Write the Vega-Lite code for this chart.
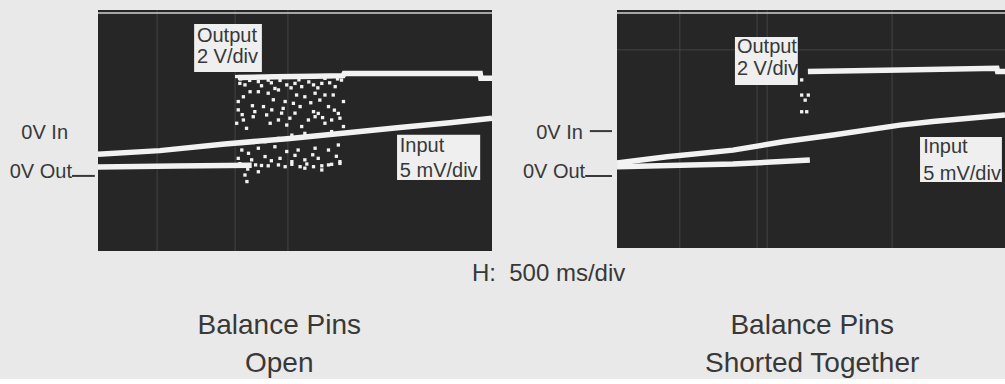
{
  "$schema": "https://vega.github.io/schema/vega-lite/v6.json",
  "background": "#e9e9e9",
  "padding": 0,
  "spacing": 125,
  "bounds": "flush",
  "config": {
    "view": {"fill": "#262626", "stroke": null},
    "font": "Liberation Sans",
    "text": {"color": "#383838"}
  },
  "datasets": {
    "lrules": [
      {"k": "grid", "x": 1.50, "x2": 1.50, "y": -0.034, "y2": 8.067},
      {"k": "grid", "x": 3.48, "x2": 3.48, "y": -0.034, "y2": 8.067},
      {"k": "grid", "x": 4.82, "x2": 4.82, "y": -0.034, "y2": 8.067},
      {"k": "edge", "x": 0, "x2": 10, "y": 7.97, "y2": 7.97},
      {"k": "dash", "x": -0.66, "x2": -0.08, "y": 2.49, "y2": 2.49}
    ],
    "ltraces": [
      {"s": "in", "x": 0, "y": 3.22}, {"s": "in", "x": 1.57, "y": 3.34}, {"s": "in", "x": 3.22, "y": 3.56},
      {"s": "in", "x": 4.87, "y": 3.75}, {"s": "in", "x": 6.40, "y": 3.95}, {"s": "in", "x": 7.66, "y": 4.12},
      {"s": "in", "x": 8.93, "y": 4.28}, {"s": "in", "x": 10, "y": 4.43},
      {"s": "lo", "x": 0, "y": 2.79}, {"s": "lo", "x": 2.0, "y": 2.82}, {"s": "lo", "x": 3.9, "y": 2.85},
      {"s": "hi", "x": 3.55, "y": 5.80}, {"s": "hi", "x": 4.5, "y": 5.82}, {"s": "hi", "x": 5.5, "y": 5.84},
      {"s": "hi", "x": 6.22, "y": 5.86}, {"s": "hi", "x": 6.25, "y": 5.93}, {"s": "hi", "x": 9.70, "y": 5.93},
      {"s": "hi", "x": 9.72, "y": 5.77}, {"s": "hi", "x": 10, "y": 5.77}
    ],
    "ldots": [
      {"x": 3.52, "y": 5.83}, {"x": 3.60, "y": 5.60}, {"x": 3.73, "y": 5.55}, {"x": 4.07, "y": 5.66}, {"x": 4.32, "y": 5.71},
      {"x": 4.49, "y": 5.43}, {"x": 4.79, "y": 5.55}, {"x": 5.00, "y": 5.60}, {"x": 5.17, "y": 5.49}, {"x": 5.47, "y": 5.55},
      {"x": 5.68, "y": 5.60}, {"x": 5.76, "y": 5.77}, {"x": 6.02, "y": 5.49}, {"x": 6.18, "y": 5.71},
      {"x": 3.62, "y": 5.75}, {"x": 3.85, "y": 5.70}, {"x": 4.15, "y": 5.52}, {"x": 4.40, "y": 5.62}, {"x": 4.62, "y": 5.70},
      {"x": 4.90, "y": 5.45}, {"x": 5.10, "y": 5.72}, {"x": 5.35, "y": 5.65}, {"x": 5.58, "y": 5.45}, {"x": 5.88, "y": 5.62},
      {"x": 6.08, "y": 5.75},
      {"x": 3.56, "y": 4.99}, {"x": 3.69, "y": 5.15}, {"x": 3.86, "y": 5.32}, {"x": 4.07, "y": 5.32}, {"x": 4.32, "y": 5.27},
      {"x": 4.58, "y": 5.38}, {"x": 4.75, "y": 4.99}, {"x": 4.96, "y": 4.93}, {"x": 5.04, "y": 5.21}, {"x": 5.25, "y": 5.15},
      {"x": 5.51, "y": 5.27}, {"x": 5.63, "y": 5.04}, {"x": 5.76, "y": 5.21}, {"x": 5.97, "y": 5.21}, {"x": 6.23, "y": 4.99},
      {"x": 3.56, "y": 4.71}, {"x": 3.98, "y": 4.65}, {"x": 4.20, "y": 4.82}, {"x": 4.41, "y": 4.71}, {"x": 4.70, "y": 4.76},
      {"x": 5.13, "y": 4.82}, {"x": 5.47, "y": 4.65}, {"x": 5.85, "y": 4.82}, {"x": 6.10, "y": 4.59},
      {"x": 3.66, "y": 4.55}, {"x": 3.92, "y": 4.85}, {"x": 4.45, "y": 5.05}, {"x": 4.66, "y": 4.60}, {"x": 5.00, "y": 4.60},
      {"x": 5.40, "y": 4.95}, {"x": 5.70, "y": 4.45}, {"x": 6.00, "y": 4.70},
      {"x": 3.52, "y": 4.26}, {"x": 3.69, "y": 4.37}, {"x": 3.94, "y": 4.48}, {"x": 4.28, "y": 4.54}, {"x": 4.58, "y": 4.37},
      {"x": 4.79, "y": 4.20}, {"x": 4.87, "y": 4.43}, {"x": 5.34, "y": 4.37}, {"x": 5.59, "y": 4.59}, {"x": 5.76, "y": 4.26},
      {"x": 5.93, "y": 4.37}, {"x": 6.14, "y": 4.43}, {"x": 3.77, "y": 4.09}, {"x": 4.37, "y": 4.26}, {"x": 5.17, "y": 4.15},
      {"x": 5.51, "y": 4.48}, {"x": 6.23, "y": 4.15},
      {"x": 3.65, "y": 3.36}, {"x": 3.82, "y": 3.25}, {"x": 4.07, "y": 3.42}, {"x": 4.49, "y": 3.47}, {"x": 4.79, "y": 3.31},
      {"x": 5.08, "y": 3.36}, {"x": 5.51, "y": 3.42}, {"x": 5.85, "y": 3.36}, {"x": 6.10, "y": 3.53},
      {"x": 3.56, "y": 3.08}, {"x": 3.90, "y": 3.03}, {"x": 4.24, "y": 3.14}, {"x": 4.62, "y": 3.08}, {"x": 4.92, "y": 2.97},
      {"x": 5.25, "y": 3.03}, {"x": 5.59, "y": 3.08}, {"x": 5.85, "y": 2.86}, {"x": 6.14, "y": 2.97}, {"x": 3.73, "y": 2.52},
      {"x": 5.25, "y": 2.75}, {"x": 5.68, "y": 2.69}, {"x": 3.60, "y": 2.90}, {"x": 3.80, "y": 2.72}, {"x": 4.40, "y": 3.00},
      {"x": 5.00, "y": 3.18}, {"x": 5.45, "y": 3.20}, {"x": 6.05, "y": 3.15}, {"x": 3.78, "y": 2.30},
      {"x": 4.00, "y": 2.86}, {"x": 4.15, "y": 2.84}, {"x": 4.32, "y": 2.83}, {"x": 4.58, "y": 2.86}, {"x": 4.75, "y": 2.80},
      {"x": 4.92, "y": 2.88}, {"x": 5.13, "y": 2.80}, {"x": 5.30, "y": 2.89}, {"x": 5.47, "y": 2.80}, {"x": 5.68, "y": 2.83},
      {"x": 5.93, "y": 2.88}, {"x": 6.14, "y": 2.91}, {"x": 4.07, "y": 2.63},
      {"x": 4.24, "y": 3.64}, {"x": 4.58, "y": 3.75}, {"x": 4.92, "y": 3.86}, {"x": 5.25, "y": 3.92}, {"x": 5.59, "y": 3.86},
      {"x": 5.93, "y": 3.98}
    ],
    "lbox": [
      {"x": 2.44, "x2": 4.16, "y": 7.60, "y2": 5.98},
      {"x": 7.59, "x2": 9.70, "y": 3.87, "y2": 2.35}
    ],
    "ltext": [
      {"t": "Output", "x": 2.51, "y": 6.99}, {"t": "2 V/div", "x": 2.51, "y": 6.29},
      {"t": "Input", "x": 7.66, "y": 3.29}, {"t": "5 mV/div", "x": 7.66, "y": 2.45}
    ],
    "lout": [
      {"t": "0V In", "x": -0.76, "y": 3.93},
      {"t": "0V Out", "x": -0.66, "y": 2.62}
    ],
    "ltitle": [
      {"t": "Balance Pins", "x": 4.60, "y": -2.82},
      {"t": "Open", "x": 4.60, "y": -4.10}
    ],
    "lh": [
      {"t": "H:\u00a0 500 ms/div", "x": 9.49, "y": -1.04}
    ],
    "rrules": [
      {"k": "grid", "x": 1.62, "x2": 1.62, "y": 0, "y2": 8},
      {"k": "grid", "x": 3.61, "x2": 3.61, "y": 0, "y2": 8},
      {"k": "grid", "x": 3.87, "x2": 3.87, "y": 0, "y2": 8},
      {"k": "grid", "x": 7.09, "x2": 7.09, "y": 0, "y2": 8},
      {"k": "grid", "x": 0, "x2": 10, "y": 6.66, "y2": 6.66},
      {"k": "edge", "x": 0, "x2": 10, "y": 7.90, "y2": 7.90},
      {"k": "dash", "x": -0.70, "x2": -0.13, "y": 3.93, "y2": 3.93},
      {"k": "dash", "x": -0.82, "x2": -0.13, "y": 2.42, "y2": 2.42}
    ],
    "rtraces": [
      {"s": "in", "x": 0, "y": 2.86}, {"s": "in", "x": 1.29, "y": 3.07}, {"s": "in", "x": 2.99, "y": 3.29},
      {"s": "in", "x": 4.28, "y": 3.57}, {"s": "in", "x": 5.57, "y": 3.80}, {"s": "in", "x": 7.29, "y": 4.13},
      {"s": "in", "x": 8.14, "y": 4.25}, {"s": "in", "x": 10, "y": 4.47},
      {"s": "lo", "x": 0, "y": 2.73}, {"s": "lo", "x": 2.99, "y": 2.82}, {"s": "lo", "x": 4.97, "y": 2.96},
      {"s": "hi", "x": 4.92, "y": 5.93}, {"s": "hi", "x": 7.29, "y": 5.98}, {"s": "hi", "x": 9.79, "y": 6.04},
      {"s": "hi", "x": 9.81, "y": 5.93}, {"s": "hi", "x": 10, "y": 5.93}
    ],
    "rdots": [
      {"x": 4.76, "y": 5.65}, {"x": 4.76, "y": 5.14}, {"x": 4.93, "y": 5.14},
      {"x": 4.85, "y": 4.97}, {"x": 4.76, "y": 4.58}, {"x": 4.89, "y": 4.58}
    ],
    "rbox": [
      {"x": 3.04, "x2": 4.66, "y": 7.09, "y2": 5.48},
      {"x": 7.81, "x2": 9.92, "y": 3.73, "y2": 2.22}
    ],
    "rtext": [
      {"t": "Output", "x": 3.09, "y": 6.55}, {"t": "2 V/div", "x": 3.09, "y": 5.82},
      {"t": "Input", "x": 7.89, "y": 3.19}, {"t": "5 mV/div", "x": 7.89, "y": 2.29}
    ],
    "rout": [
      {"t": "0V In", "x": -0.88, "y": 3.85},
      {"t": "0V Out", "x": -0.82, "y": 2.57}
    ],
    "rtitle": [
      {"t": "Balance Pins", "x": 5.03, "y": -2.89},
      {"t": "Shorted Together", "x": 5.03, "y": -4.17}
    ]
  },
  "hconcat": [
    {
      "width": 394,
      "height": 241,
      "encoding": {
        "x": {"field": "x", "type": "quantitative", "scale": {"domain": [0, 10], "nice": false, "zero": false}, "axis": null},
        "y": {"field": "y", "type": "quantitative", "scale": {"domain": [-0.034, 8.067], "nice": false, "zero": false}, "axis": null}
      },
      "layer": [
        {
          "data": {"values": [{"x": -2.487, "x2": -2.45, "y": 8.403, "y2": 8.38}]},
          "mark": {"type": "rect", "fill": "#e9e9e9"},
          "encoding": {"x2": {"field": "x2"}, "y2": {"field": "y2"}}
        },
        {
          "data": {"name": "lrules"},
          "mark": {"type": "rule"},
          "encoding": {
            "x2": {"field": "x2"}, "y2": {"field": "y2"},
            "color": {"field": "k", "type": "nominal", "scale": {"domain": ["grid", "edge", "dash"], "range": ["#444444", "#d0d0d0", "#383838"]}, "legend": null},
            "strokeWidth": {"field": "k", "type": "nominal", "scale": {"domain": ["grid", "edge", "dash"], "range": [1, 2, 2]}, "legend": null}
          }
        },
        {
          "data": {"name": "ltraces"},
          "mark": {"type": "line", "color": "#f2f2f2", "strokeWidth": 5.5},
          "encoding": {"detail": {"field": "s", "type": "nominal"}}
        },
        {
          "data": {"name": "ldots"},
          "mark": {"type": "square", "color": "#f2f2f2", "filled": true, "opacity": 1, "size": 11},
          "encoding": {}
        },
        {
          "data": {"name": "lbox"},
          "mark": {"type": "rect", "fill": "#efefef"},
          "encoding": {"x2": {"field": "x2"}, "y2": {"field": "y2"}}
        },
        {
          "data": {"name": "ltext"},
          "mark": {"type": "text", "align": "left", "baseline": "alphabetic", "fontSize": 20},
          "encoding": {"text": {"field": "t", "type": "nominal"}}
        },
        {
          "data": {"name": "lout"},
          "mark": {"type": "text", "align": "right", "baseline": "middle", "fontSize": 20},
          "encoding": {"text": {"field": "t", "type": "nominal"}}
        },
        {
          "data": {"name": "ltitle"},
          "mark": {"type": "text", "align": "center", "baseline": "alphabetic", "fontSize": 28},
          "encoding": {"text": {"field": "t", "type": "nominal"}}
        },
        {
          "data": {"name": "lh"},
          "mark": {"type": "text", "align": "left", "baseline": "alphabetic", "fontSize": 24},
          "encoding": {"text": {"field": "t", "type": "nominal"}}
        }
      ]
    },
    {
      "width": 388,
      "height": 238,
      "encoding": {
        "x": {"field": "x", "type": "quantitative", "scale": {"domain": [0, 10], "nice": false, "zero": false}, "axis": null},
        "y": {"field": "y", "type": "quantitative", "scale": {"domain": [0, 8], "nice": false, "zero": false}, "axis": null}
      },
      "layer": [
        {
          "data": {"name": "rrules"},
          "mark": {"type": "rule"},
          "encoding": {
            "x2": {"field": "x2"}, "y2": {"field": "y2"},
            "color": {"field": "k", "type": "nominal", "scale": {"domain": ["grid", "edge", "dash"], "range": ["#444444", "#d0d0d0", "#383838"]}, "legend": null},
            "strokeWidth": {"field": "k", "type": "nominal", "scale": {"domain": ["grid", "edge", "dash"], "range": [1, 2, 2]}, "legend": null}
          }
        },
        {
          "data": {"name": "rtraces"},
          "mark": {"type": "line", "color": "#f2f2f2", "strokeWidth": 5.5},
          "encoding": {"detail": {"field": "s", "type": "nominal"}}
        },
        {
          "data": {"name": "rdots"},
          "mark": {"type": "square", "color": "#f2f2f2", "filled": true, "opacity": 1, "size": 11},
          "encoding": {}
        },
        {
          "data": {"name": "rbox"},
          "mark": {"type": "rect", "fill": "#efefef"},
          "encoding": {"x2": {"field": "x2"}, "y2": {"field": "y2"}}
        },
        {
          "data": {"name": "rtext"},
          "mark": {"type": "text", "align": "left", "baseline": "alphabetic", "fontSize": 20},
          "encoding": {"text": {"field": "t", "type": "nominal"}}
        },
        {
          "data": {"name": "rout"},
          "mark": {"type": "text", "align": "right", "baseline": "middle", "fontSize": 20},
          "encoding": {"text": {"field": "t", "type": "nominal"}}
        },
        {
          "data": {"name": "rtitle"},
          "mark": {"type": "text", "align": "center", "baseline": "alphabetic", "fontSize": 28},
          "encoding": {"text": {"field": "t", "type": "nominal"}}
        }
      ]
    }
  ]
}
